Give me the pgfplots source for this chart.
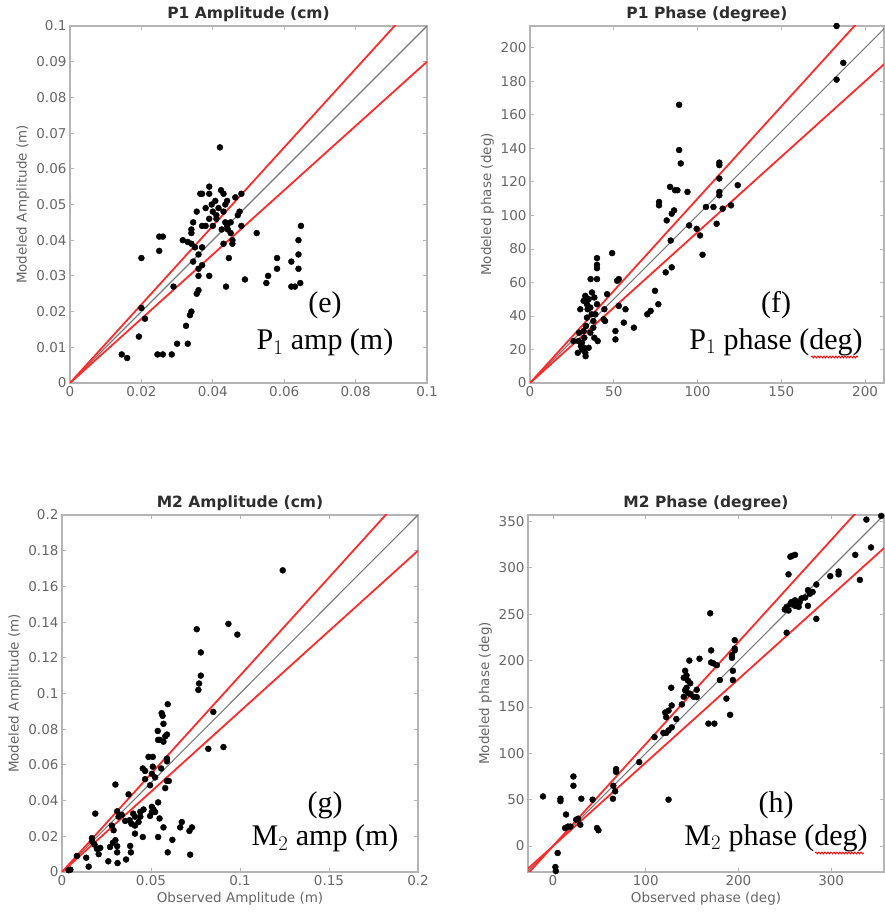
\documentclass[border=0pt]{standalone}
\usepackage{fontspec}
\setmainfont{Liberation Serif}
\newfontfamily\sansf{DejaVu Sans}
\usepackage{pgfplots}
\pgfplotsset{compat=1.18}
\usetikzlibrary{decorations.pathmorphing}
\definecolor{axgray}{HTML}{B4B4B4}
\definecolor{tickgray}{HTML}{666666}
\definecolor{titlegray}{HTML}{2E2E2E}
\definecolor{refred}{HTML}{FF2A2A}
\definecolor{onegray}{HTML}{7A7A7A}
\pgfplotsset{
 mystyle/.style={
  scale only axis, width=357pt, height=357pt, anchor=south west,
  axis line style={axgray, line width=1.2pt},
  tick style={axgray, line width=0.8pt},
  tick align=inside, major tick length=4pt,
  ticklabel style={font=\sansf\fontsize{13.5}{15}\selectfont, text=tickgray},
  label style={font=\sansf\fontsize{13.5}{15}\selectfont, text=tickgray},
  title style={font=\sansf\bfseries\fontsize{15.5}{17}\selectfont, text=titlegray, yshift=-5pt},
 },
 pts/.style={only marks, mark=*, mark size=3pt, mark options={fill=black, draw=black}},
 redl/.style={refred, line width=1.8pt, no marks},
 grayl/.style={onegray, line width=1.1pt, no marks},
}
\newcommand{\ann}[1]{\fontsize{30}{34}\selectfont #1}
\begin{document}
\begin{tikzpicture}
\path[use as bounding box] (0pt,0pt) rectangle (884pt,915pt);
% ---------------- (e)
\begin{axis}[mystyle, at={(70pt,532pt)},
 xmin=0, xmax=0.1, ymin=0, ymax=0.1,
 xtick={0,0.02,0.04,0.06,0.08,0.1}, xticklabels={0,0.02,0.04,0.06,0.08,0.1},
 ytick={0,0.01,0.02,0.03,0.04,0.05,0.06,0.07,0.08,0.09,0.1},
 yticklabels={0,0.01,0.02,0.03,0.04,0.05,0.06,0.07,0.08,0.09,0.1},
 title={P1 Amplitude (cm)}, ylabel={Modeled Amplitude (m)}]
\addplot[pts] table {
0.0145 0.008
0.016 0.007
0.0193 0.013
0.020 0.021
0.020 0.035
0.021 0.018
0.025 0.037
0.025 0.041
0.026 0.041
0.0245 0.008
0.026 0.008
0.0285 0.008
0.029 0.027
0.030 0.011
0.0316 0.040
0.0325 0.016
0.033 0.011
0.0336 0.019
0.034 0.020
0.033 0.0395
0.034 0.039
0.034 0.042
0.034 0.043
0.0345 0.045
0.0345 0.034
0.035 0.038
0.0355 0.048
0.0355 0.025
0.036 0.026
0.036 0.030
0.036 0.032
0.036 0.036
0.0365 0.053
0.037 0.053
0.037 0.038
0.037 0.033
0.037 0.044
0.038 0.049
0.038 0.044
0.039 0.030
0.039 0.055
0.039 0.053
0.039 0.046
0.0397 0.050
0.040 0.048
0.040 0.044
0.0407 0.051
0.041 0.047
0.041 0.046
0.0416 0.049
0.042 0.066
0.0423 0.054
0.0425 0.043
0.043 0.053
0.043 0.048
0.0435 0.050
0.0435 0.045
0.043 0.039
0.0437 0.027
0.044 0.051
0.044 0.044
0.0442 0.043
0.0445 0.035
0.045 0.042
0.045 0.045
0.0455 0.040
0.0455 0.039
0.0463 0.052
0.047 0.047
0.0475 0.048
0.048 0.053
0.048 0.044
0.049 0.029
0.0523 0.042
0.055 0.028
0.0555 0.030
0.058 0.032
0.058 0.035
0.062 0.034
0.062 0.027
0.063 0.027
0.064 0.040
0.064 0.036
0.064 0.032
0.0645 0.028
0.0647 0.044
};
\addplot[grayl] coordinates {(0,0) (0.1,0.1)};
\addplot[redl] coordinates {(0,0) (0.1,0.11)};
\addplot[redl] coordinates {(0,0) (0.1,0.09)};
\end{axis}
% ---------------- (f)
\begin{axis}[mystyle, at={(530pt,532pt)}, width=354pt,
 xmin=0, xmax=211.3, ymin=0, ymax=213,
 xtick={0,50,100,150,200}, xticklabels={0,50,100,150,200},
 ytick={0,20,40,60,80,100,120,140,160,180,200},
 yticklabels={0,20,40,60,80,100,120,140,160,180,200},
 title={P1 Phase (degree)}, ylabel={Modeled phase (deg)}]
\addplot[pts] table {
183 213
183 181
187 191
89 166
89 139
90 131
77 108
77 106
83.6 117
86.6 115
88 115
94 114
84.6 101
86 103
81.6 97
84 85
84.6 69
81 66
95 94
99.5 92
101.5 88
103 76.5
105 105
109.5 105
111.4 95
113 131.5
113 130
113 122
113 114
113 112
115 104
120 106
124 118
74.6 55
76.6 47
72 43
70 41
62 33
56 36
57 44
53 46
51 31
51 26
52 61
53 62
49 77.5
46 53
44.4 44
44 38
44.8 37
40 62
40 74.5
40 70.5
40 68.5
40 47
40.4 25
38.4 27
39 41
37 54
36.2 62
38.4 51
36.8 41
37.8 37
37.8 33
35 50
34 39
34.4 44
33 52
33 50
32 49
33.4 34
32 31
32.4 27
32 21
33 18
33.2 16
31 20
31 24
30 44
30.4 22
29.3 30
28.5 18
28.9 25
26 25
35 21
36 30
34 47
36 45
};
\addplot[grayl] coordinates {(0,0) (220,220)};
\addplot[redl] coordinates {(0,0) (220,242)};
\addplot[redl] coordinates {(0,0) (220,198)};
\end{axis}
% ---------------- (g)
\begin{axis}[mystyle, at={(62pt,43pt)}, width=356pt,
 xmin=0, xmax=0.2, ymin=0, ymax=0.2,
 xtick={0,0.05,0.1,0.15,0.2}, xticklabels={0,0.05,0.1,0.15,0.2},
 ytick={0,0.02,0.04,0.06,0.08,0.1,0.12,0.14,0.16,0.18,0.2},
 yticklabels={0,0.02,0.04,0.06,0.08,0.1,0.12,0.14,0.16,0.18,0.2},
 title={M2 Amplitude (cm)}, ylabel={Modeled Amplitude (m)}, xlabel={Observed Amplitude (m)}]
\addplot[pts] table {
0.124 0.169
0.0935 0.139
0.0985 0.133
0.0757 0.136
0.078 0.123
0.078 0.110
0.077 0.1056
0.0766 0.102
0.085 0.0897
0.0822 0.069
0.0907 0.070
0.0594 0.094
0.056 0.089
0.0565 0.0875
0.057 0.083
0.0538 0.079
0.059 0.077
0.058 0.076
0.054 0.074
0.055 0.074
0.057 0.073
0.0486 0.0645
0.051 0.0645
0.059 0.0635
0.059 0.062
0.0454 0.058
0.0467 0.0566
0.051 0.059
0.0557 0.058
0.0505 0.055
0.0523 0.053
0.0467 0.052
0.059 0.051
0.060 0.051
0.0495 0.0486
0.058 0.047
0.030 0.049
0.0374 0.0435
0.031 0.034
0.0336 0.032
0.0355 0.0286
0.038 0.029
0.040 0.0327
0.041 0.031
0.041 0.026
0.041 0.0215
0.044 0.0337
0.044 0.031
0.0458 0.035
0.0454 0.0196
0.0505 0.0365
0.0514 0.035
0.0523 0.0336
0.0505 0.0336
0.0495 0.0314
0.054 0.039
0.0548 0.030
0.057 0.025
0.054 0.0196
0.0594 0.011
0.062 0.018
0.0664 0.025
0.0673 0.028
0.0716 0.023
0.073 0.025
0.072 0.0097
0.0383 0.0146
0.0387 0.011
0.036 0.007
0.0312 0.005
0.031 0.0144
0.031 0.011
0.030 0.0178
0.0286 0.0164
0.027 0.014
0.026 0.006
0.029 0.0234
0.028 0.026
0.0318 0.031
0.0187 0.0327
0.0168 0.019
0.0183 0.0153
0.0196 0.013
0.0215 0.0135
0.0206 0.010
0.0136 0.008
0.015 0.003
0.0047 0.0013
0.0037 0.001
0.0084 0.009
0.017 0.017
0.039 0.027
0.043 0.028
};
\addplot[grayl] coordinates {(0,0) (0.2,0.2)};
\addplot[redl] coordinates {(0,0) (0.2,0.22)};
\addplot[redl] coordinates {(0,0) (0.2,0.18)};
\end{axis}
% ---------------- (h)
\begin{axis}[mystyle, at={(528pt,43pt)}, width=356pt,
 xmin=-27, xmax=357, ymin=-28, ymax=357,
 xtick={0,100,200,300}, xticklabels={0,100,200,300},
 ytick={0,50,100,150,200,250,300,350},
 yticklabels={0,50,100,150,200,250,300,350},
 title={M2 Phase (degree)}, ylabel={Modeled phase (deg)}, xlabel={Observed phase (deg)}]
\addplot[pts] table {
354 356
338 352
343 322
326 314
331 287
308 296
308 293
299 291
284 282
284 245
275 276
277 272
280 274
275 259
272 268
268 267
266 263
262 260
261 265
257 263
256 261
254 254
252 258
250 255
261 259
265 258
256 312
258 313
261 314
254 293
252 230
169.5 251
170.5 211
170.5 198
173 197
176.7 195
180 179
187 159
191 141.5
194 189
194 179
193 206
193 203
196 222
196 213
196 211
167.6 132
174 132
158 202
147 200
155 168.5
151.5 161
155 160.6
148 164
142.5 189
144 184
141 181.5
145.5 178.5
144 170.6
142.5 168
148 175.5
145.5 165
141 161
139 152.7
128 151.6
127.5 170.7
124.6 146
133 137
121 144
122 139
128 128
124.6 124.7
119 122
122 122
109.5 117.5
93 90.5
68 83
68 80
65 65
67 59
64.6 51
124.6 50
42.7 50
30.5 51
47.4 19.4
49 17
29.4 23
27 29.5
25 28.4
22 75
22 65
14 34
16 21
13 19.4
18.7 21
8 51
8 48.5
-10.8 53.5
5 -7.5
2.5 -22.6
3 -27
};
\addplot[grayl] coordinates {(-40,-40) (380,380)};
\addplot[redl] coordinates {(-40,-44) (380,418)};
\addplot[redl] coordinates {(-40,-36) (380,342)};
\end{axis}
% ---------------- annotations
\node at (325pt,610pt) {\ann{(e)}};
\node at (325pt,573pt) {\ann{P$_1$ amp (m)}};
\node at (776pt,610pt) {\ann{(f)}};
\node at (776pt,573pt) {\ann{P$_1$ phase (deg)}};
\node at (325pt,110pt) {\ann{(g)}};
\node at (325pt,77pt) {\ann{M$_2$ amp (m)}};
\node at (776pt,110pt) {\ann{(h)}};
\node at (776pt,77pt) {\ann{M$_2$ phase (deg)}};
\draw[red, line width=0.9pt, decorate, decoration={snake, amplitude=0.9pt, segment length=3pt}] (811pt,558pt) -- (858pt,558pt);
\draw[red, line width=0.9pt, decorate, decoration={snake, amplitude=0.9pt, segment length=3pt}] (815pt,62pt) -- (864pt,62pt);
\end{tikzpicture}
\end{document}
